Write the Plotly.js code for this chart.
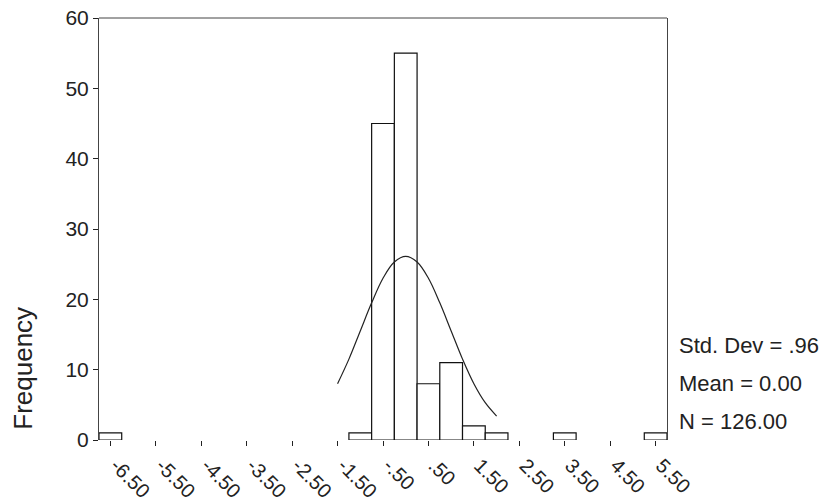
<!DOCTYPE html>
<html>
<head>
<meta charset="utf-8">
<script src="https://cdn.plot.ly/plotly-3.0.1.min.js"></script>
<style>html,body{margin:0;padding:0;background:#fff;}#chart{width:831px;height:501px;}</style>
</head>
<body>
<div id="chart"></div>
<script>
// Histogram bins (bin centres, width 0.5) and frequencies
var binCenters = [-6.5, -1.0, -0.5, 0.0, 0.5, 1.0, 1.5, 2.0, 3.5, 5.5];
var frequencies = [1, 1, 45, 55, 8, 11, 2, 1, 1, 1];
var binWidth = 0.5;

// Normal curve
var curveX = [-1.5, -1.25, -1.0, -0.75, -0.5, -0.25, 0.0, 0.25, 0.5, 0.75, 1.0, 1.25, 1.5, 1.75, 2.0];
var curveY = [8, 11.5, 15.5, 19.5, 23, 25.3, 26.1, 25.3, 23, 19.5, 15.5, 11.5, 8, 5.3, 3.4];

// Axis tick labels
var xTickVals = [-6.5, -5.5, -4.5, -3.5, -2.5, -1.5, -0.5, 0.5, 1.5, 2.5, 3.5, 4.5, 5.5];
var xTickText = ['-6.50', '-5.50', '-4.50', '-3.50', '-2.50', '-1.50', '-.50', '.50', '1.50', '2.50', '3.50', '4.50', '5.50'];
var yTickVals = [0, 10, 20, 30, 40, 50, 60];

// Statistics
var statLabels = ['Std. Dev = .96', 'Mean = 0.00', 'N = 126.00'];

var font = 'Liberation Sans, Arial, sans-serif';

var traces = [
  {
    type: 'bar',
    x: binCenters,
    y: frequencies,
    width: binCenters.map(function(){return binWidth;}),
    marker: {color: '#ffffff', line: {color: '#111111', width: 1.2}},
    hoverinfo: 'x+y'
  },
  {
    type: 'scatter',
    mode: 'lines',
    x: curveX,
    y: curveY,
    line: {color: '#222222', width: 1.2, shape: 'spline'},
    hoverinfo: 'skip'
  }
];

var statY = [0.225, 0.135, 0.045];
var annotations = statLabels.map(function(t, i){
  return {text: t, xref: 'paper', yref: 'paper', x: 1.018, y: statY[i],
          xanchor: 'left', yanchor: 'middle', showarrow: false,
          font: {family: font, size: 22, color: '#222'}};
});
annotations.push({text: 'Frequency', xref: 'paper', yref: 'paper', x: -0.133, y: 0.17,
  xanchor: 'center', yanchor: 'middle', textangle: -90, showarrow: false,
  font: {family: font, size: 26, color: '#222'}});

var layout = {
  width: 831, height: 501,
  margin: {l: 99, r: 164, t: 18, b: 61, pad: 0},
  paper_bgcolor: '#ffffff', plot_bgcolor: '#ffffff',
  showlegend: false,
  bargap: 0,
  xaxis: {
    range: [-6.75, 5.75],
    tickvals: xTickVals, ticktext: xTickText,
    tickangle: 45,
    ticklabelshift: 6,
    ticks: 'outside', ticklen: 5, tickcolor: '#222',
    showline: false, showgrid: false, zeroline: false,
    tickfont: {family: font, size: 20, color: '#222'}
  },
  yaxis: {
    range: [0, 60],
    tickvals: yTickVals,
    ticks: 'outside', ticklen: 5, tickcolor: '#222',
    showline: true, linecolor: '#444', linewidth: 1, mirror: true,
    showgrid: false, zeroline: false,
    tickfont: {family: font, size: 21, color: '#222'}
  },
  shapes: [
    {type: 'line', xref: 'paper', yref: 'paper', x0: 0, x1: 1, y0: 1, y1: 1,
     line: {color: '#444', width: 1}}
  ],
  annotations: annotations
};

Plotly.newPlot('chart', traces, layout, {displayModeBar: false, staticPlot: true});
</script>
</body>
</html>
